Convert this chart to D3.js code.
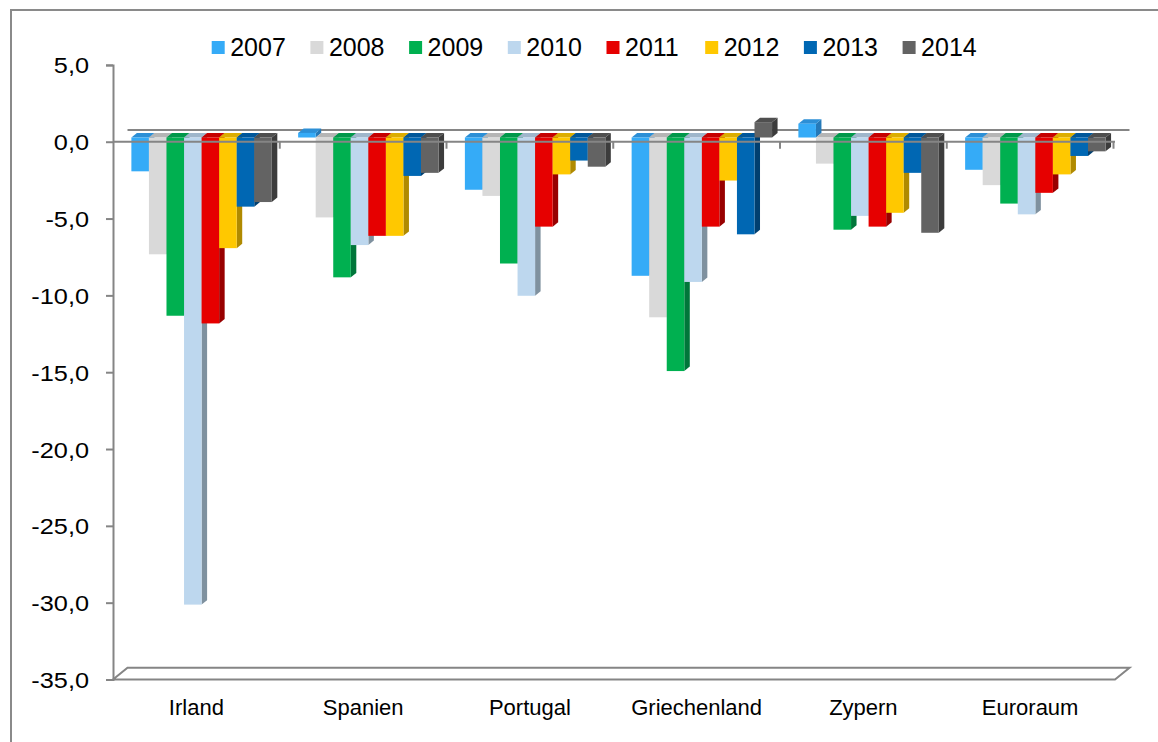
<!DOCTYPE html>
<html><head><meta charset="utf-8">
<script src="https://cdn.jsdelivr.net/npm/d3@7"></script>
<style>
body{margin:0;background:#fff;}
svg{display:block;font-family:"Liberation Sans",Arial,sans-serif;}
</style>
</head><body>
<svg id="c" width="1158" height="742"></svg>
<script>
// ---- data ----
const categories = ["Irland", "Spanien", "Portugal", "Griechenland", "Zypern", "Euroraum"];
const years = ["2007", "2008", "2009", "2010", "2011", "2012", "2013", "2014"];
const s2007 = [-2.2, 0.3, -3.4, -9.0, 0.9, -2.1];
const s2008 = [-7.6, -5.2, -3.8, -11.7, -1.7, -3.1];
const s2009 = [-11.6, -9.1, -8.2, -15.2, -6.0, -4.3];
const s2010 = [-30.4, -7.0, -10.3, -9.4, -5.1, -5.0];
const s2011 = [-12.1, -6.4, -5.8, -5.8, -5.8, -3.6];
const s2012 = [-7.2, -6.4, -2.4, -2.8, -4.9, -2.4];
const s2013 = [-4.5, -2.5, -1.5, -6.3, -2.3, -1.2];
const s2014 = [-4.2, -2.3, -1.9, 1.0, -6.2, -0.9];
const seriesValues = [s2007, s2008, s2009, s2010, s2011, s2012, s2013, s2014];
const tickValues = [5, 0, -5, -10, -15, -20, -25, -30, -35];

// ---- styles ----
const frontColors = ["#35abf7", "#d9d9d9", "#00b050", "#bdd7ee", "#e60000", "#ffc800", "#0067b3", "#636363"];
const sideColors  = ["#2579b8", "#a6a6a6", "#00763a", "#7f919f", "#980000", "#b08a00", "#003f70", "#3c3c3c"];
const topColors   = ["#2c8fd6", "#b5b5b5", "#00984a", "#9fb6cb", "#c60000", "#dcad00", "#00579a", "#4f4f4f"];
const axisGray = "#858585";

const svg = d3.select("#c");

// outer frame
svg.append("rect").attr("x", 11).attr("y", 10).attr("width", 1180).attr("height", 780)
  .attr("fill", "none").attr("stroke", "#8a8a8a").attr("stroke-width", 2);

// 3D projection
const DX = 14.5, DY = -11.7;      // full depth offset
const F0 = 0.36, F1 = 0.74;       // bar depth range
const y = d3.scaleLinear().domain([-35, 5]).range([679.5, 64.9]);
const x0 = d3.scaleBand().domain(categories).range([113, 1113.5]);
const x1 = d3.scaleBand().domain(years).range([0, x0.bandwidth()]).paddingOuter(0.75).paddingInner(0);

const xEnd = 1115;

// floor
svg.append("polygon")
  .attr("points", [[113, y(-35)], [xEnd, y(-35)], [xEnd + DX, y(-35) + DY], [113 + DX, y(-35) + DY]].map(p => p.join(",")).join(" "))
  .attr("fill", "#fff").attr("stroke", axisGray).attr("stroke-width", 2);

// back zero line
svg.append("line").attr("x1", 113 + DX).attr("x2", xEnd + DX)
  .attr("y1", y(0) + DY).attr("y2", y(0) + DY)
  .attr("stroke", axisGray).attr("stroke-width", 2);

// bars
const ddx = (F1 - F0) * DX, ddy = (F1 - F0) * DY;
const bars = [];
categories.forEach((c, ci) => {
  years.forEach((yr, yi) => {
    bars.push({c, yr, yi, v: seriesValues[yi][ci]});
  });
});
const barG = svg.append("g");
bars.forEach(b => {
  const w = x1.bandwidth();
  const xf = x0(b.c) + x1(b.yr) + F0 * DX;
  const yTop = Math.min(y(b.v), y(0)) + F0 * DY;
  const yBot = Math.max(y(b.v), y(0)) + F0 * DY;
  const g = barG.append("g");
  g.append("polygon")
    .attr("points", [[xf + w, yTop], [xf + w + ddx, yTop + ddy], [xf + w + ddx, yBot + ddy], [xf + w, yBot]].map(p => p.join(",")).join(" "))
    .attr("fill", sideColors[b.yi]);
  g.append("polygon")
    .attr("points", [[xf, yTop], [xf + w, yTop], [xf + w + ddx, yTop + ddy], [xf + ddx, yTop + ddy]].map(p => p.join(",")).join(" "))
    .attr("fill", topColors[b.yi]);
  g.append("rect").attr("x", xf).attr("y", yTop).attr("width", w).attr("height", yBot - yTop)
    .attr("fill", frontColors[b.yi]);
});

// front zero (category) axis
svg.append("line").attr("x1", 113).attr("x2", xEnd).attr("y1", y(0)).attr("y2", y(0))
  .attr("stroke", axisGray).attr("stroke-width", 2);
const bounds = categories.map(c => x0(c)).concat([x0(categories[categories.length - 1]) + x0.bandwidth()]);
svg.append("g").selectAll("line").data(bounds.slice(1)).join("line")
  .attr("x1", d => d).attr("x2", d => d).attr("y1", y(0)).attr("y2", y(0) + 7)
  .attr("stroke", axisGray).attr("stroke-width", 2);

// y axis
const yAxis = d3.axisLeft(y).tickValues(tickValues).tickSize(7).tickSizeOuter(7).tickFormat("");
const ya = svg.append("g").attr("transform", "translate(113,0)").call(yAxis);
ya.selectAll("path,line").attr("stroke", axisGray).attr("stroke-width", 2);

const fmt = d3.formatLocale({decimal: ",", thousands: ".", grouping: [3], currency: ["", "€"], minus: "-"}).format(".1f");
svg.append("g").selectAll("text").data(tickValues).join("text")
  .attr("transform", d => `translate(89,${y(d) + 8.5}) scale(1.15,1)`)
  .attr("text-anchor", "end").attr("font-size", 22).attr("fill", "#000")
  .text(d => fmt(d));

// category labels
svg.append("g").selectAll("text").data(categories).join("text")
  .attr("x", d => x0(d) + x0.bandwidth() / 2).attr("y", 714.5)
  .attr("text-anchor", "middle").attr("font-size", 22).attr("fill", "#000")
  .text(d => d);

// legend
const lg = svg.append("g");
years.forEach((yr, i) => {
  const lx = 211.7 + i * 98.7;
  lg.append("rect").attr("x", lx).attr("y", 41).attr("width", 13).attr("height", 13).attr("fill", frontColors[i]);
  lg.append("text").attr("x", lx + 18.5).attr("y", 55.5).attr("font-size", 25).attr("fill", "#000").text(yr);
});
</script>
</body></html>
